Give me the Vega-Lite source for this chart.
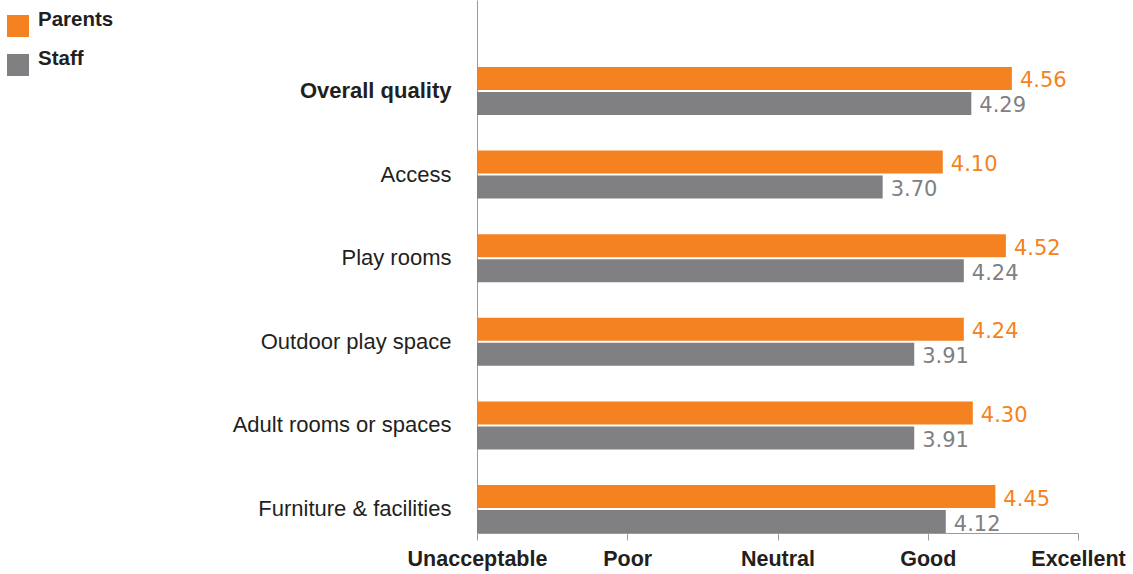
{
  "$schema": "https://vega.github.io/schema/vega-lite/v6.json",
  "width": 601,
  "height": 533,
  "autosize": {"type": "none"},
  "padding": {"left": 477, "top": 0, "right": 55, "bottom": 41},
  "background": "white",
  "config": {
    "view": {"stroke": null},
    "font": "Liberation Sans"
  },
  "data": {
    "values": [
      {"category": "Overall quality", "series": "Parents", "value": 4.56},
      {"category": "Overall quality", "series": "Staff", "value": 4.29},
      {"category": "Access", "series": "Parents", "value": 4.10},
      {"category": "Access", "series": "Staff", "value": 3.70},
      {"category": "Play rooms", "series": "Parents", "value": 4.52},
      {"category": "Play rooms", "series": "Staff", "value": 4.24},
      {"category": "Outdoor play space", "series": "Parents", "value": 4.24},
      {"category": "Outdoor play space", "series": "Staff", "value": 3.91},
      {"category": "Adult rooms or spaces", "series": "Parents", "value": 4.30},
      {"category": "Adult rooms or spaces", "series": "Staff", "value": 3.91},
      {"category": "Furniture & facilities", "series": "Parents", "value": 4.45},
      {"category": "Furniture & facilities", "series": "Staff", "value": 4.12}
    ]
  },
  "encoding": {
    "y": {
      "field": "category",
      "type": "nominal",
      "sort": null,
      "scale": {"paddingInner": 0.426, "paddingOuter": 0.4, "align": 1},
      "axis": {
        "title": null,
        "ticks": false,
        "domain": true,
        "domainColor": "#9a9a9a",
        "domainWidth": 1,
        "labelFontSize": 22,
        "labelLimit": 0,
        "labelColor": "#231f20",
        "labelPadding": 26,
        "labelFontWeight": {"condition": {"test": "datum.value == 'Overall quality'", "value": "bold"}, "value": "normal"}
      }
    },
    "yOffset": {
      "field": "series",
      "type": "nominal",
      "scale": {"domain": ["Parents", "Staff"], "paddingInner": 0.08}
    }
  },
  "layer": [
    {
      "mark": {"type": "bar"},
      "encoding": {
        "x": {
          "field": "value",
          "type": "quantitative",
          "scale": {"domain": [1, 5], "zero": false, "nice": false},
          "axis": {
            "title": null,
            "values": [1, 2, 3, 4, 5],
            "grid": false,
            "domainColor": "#9a9a9a",
            "tickColor": "#9a9a9a",
            "tickSize": 7,
            "labelFontSize": 21.5,
            "labelFontWeight": "bold",
            "labelColor": "#231f20",
            "labelPadding": 8,
            "labelFlush": false,
            "labelOverlap": false,
            "labelExpr": "['','Unacceptable','Poor','Neutral','Good','Excellent'][datum.value]"
          }
        },
        "x2": {"datum": 1},
        "color": {
          "field": "series",
          "type": "nominal",
          "scale": {"domain": ["Parents", "Staff"], "range": ["#f58220", "#808083"]},
          "legend": {
            "title": null,
            "orient": "none",
            "legendX": -470,
            "legendY": 15,
            "symbolType": "square",
            "symbolSize": 484,
            "symbolStrokeWidth": 0,
            "symbolOpacity": 1,
            "labelFontSize": 20.5,
            "labelFontWeight": "bold",
            "labelColor": "#231f20",
            "labelBaseline": "alphabetic",
            "labelOffset": 9,
            "rowPadding": 12
          }
        }
      }
    },
    {
      "mark": {"type": "text", "align": "left", "baseline": "middle", "dx": 8, "dy": 3, "fontSize": 21, "font": "DejaVu Sans"},
      "encoding": {
        "x": {"field": "value", "type": "quantitative"},
        "text": {"field": "value", "type": "quantitative", "format": ".2f"},
        "color": {
          "field": "series",
          "type": "nominal",
          "scale": {"domain": ["Parents", "Staff"], "range": ["#f58220", "#8a8a8d"]},
          "legend": null
        }
      }
    }
  ]
}
